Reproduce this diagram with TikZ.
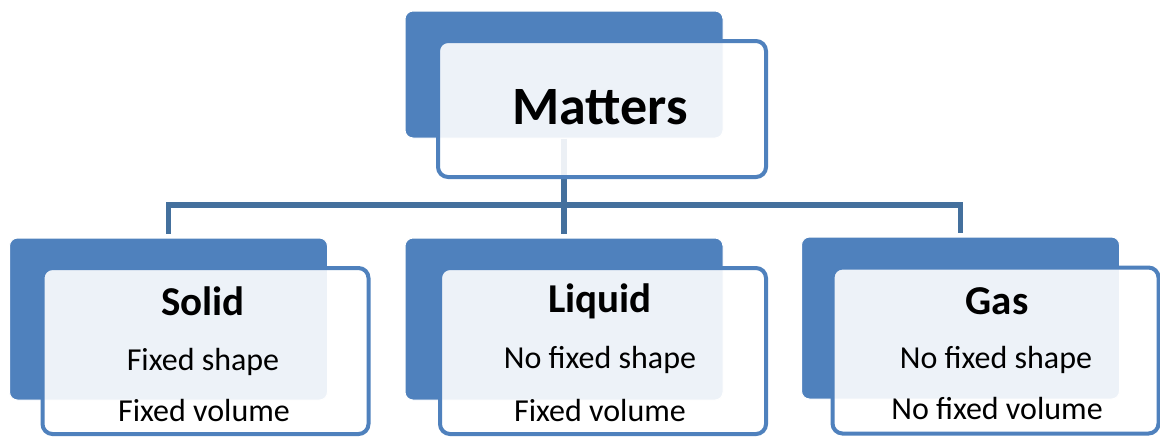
\documentclass[tikz,border=0pt]{standalone}
\usepackage{fontspec}
\setmainfont{Carlito}
\usetikzlibrary{positioning}
\definecolor{matblue}{HTML}{4F81BD}
\definecolor{linkblue}{HTML}{44709D}
\tikzset{
  backbox/.style={rectangle, rounded corners=4pt, draw=white, line width=0.5pt, fill=matblue,
                  minimum width=159pt, minimum height=81pt, inner sep=0pt},
  frontbox/.style={rectangle, rounded corners=5pt, draw=matblue, line width=2pt, fill=white,
                   fill opacity=0.9, minimum width=163pt, minimum height=83pt, inner sep=0pt},
  bigttl/.style={font=\fontsize{27}{31}\selectfont\bfseries, text=black, inner sep=0pt},
  ttl/.style={font=\fontsize{20.5}{24}\selectfont\bfseries, text=black, inner sep=0pt},
  txt/.style={font=\fontsize{16}{19}\selectfont, text=black, inner sep=0pt},
  link/.style={draw=linkblue, line width=2.75pt},
}
\begin{document}
\begin{tikzpicture}[x=0.5pt,y=-0.5pt]
\useasboundingbox (0,0) rectangle (1160,436);
% back cards
\node[backbox, minimum height=63.5pt] (mtb) at (564,74.5) {};
\node[backbox] (solb) at (168.5,319) {};
\node[backbox] (liqb) at (564,319) {};
\node[backbox] (gasb) at (960.5,318) {};
% tree links
\coordinate (bus) at (564,205);
\draw[link, shorten >=2pt] (mtb.south) -- (liqb.north);
\draw[link, shorten <=2pt, shorten >=2pt] (solb.north) |- (bus) -| (gasb.north);
% front cards
\node[frontbox, minimum width=164pt, minimum height=68pt] (mtf) at (602,109) {};
\node[frontbox] (solf) at (205.5,351) {};
\node[frontbox] (liqf) at (603,351) {};
\node[frontbox] (gasf) at (995.5,350.5) {};
% labels
\node[bigttl] (mt) at (600,107) {Matters};
\node[ttl] (sol) at (203,301) {Solid};
\node[txt] (sol1) at (203,362) {Fixed shape};
\node[txt] (sol2) at (204,410) {Fixed volume};
\node[ttl] (liq) at (600,301) {Liquid};
\node[txt] (liq1) at (600,360) {No fixed shape};
\node[txt] (liq2) at (600,410) {Fixed volume};
\node[ttl] (gas) at (997,301) {Gas};
\node[txt] (gas1) at (996,360) {No fixed shape};
\node[txt] (gas2) at (997,408) {No fixed volume};
\end{tikzpicture}
\end{document}
